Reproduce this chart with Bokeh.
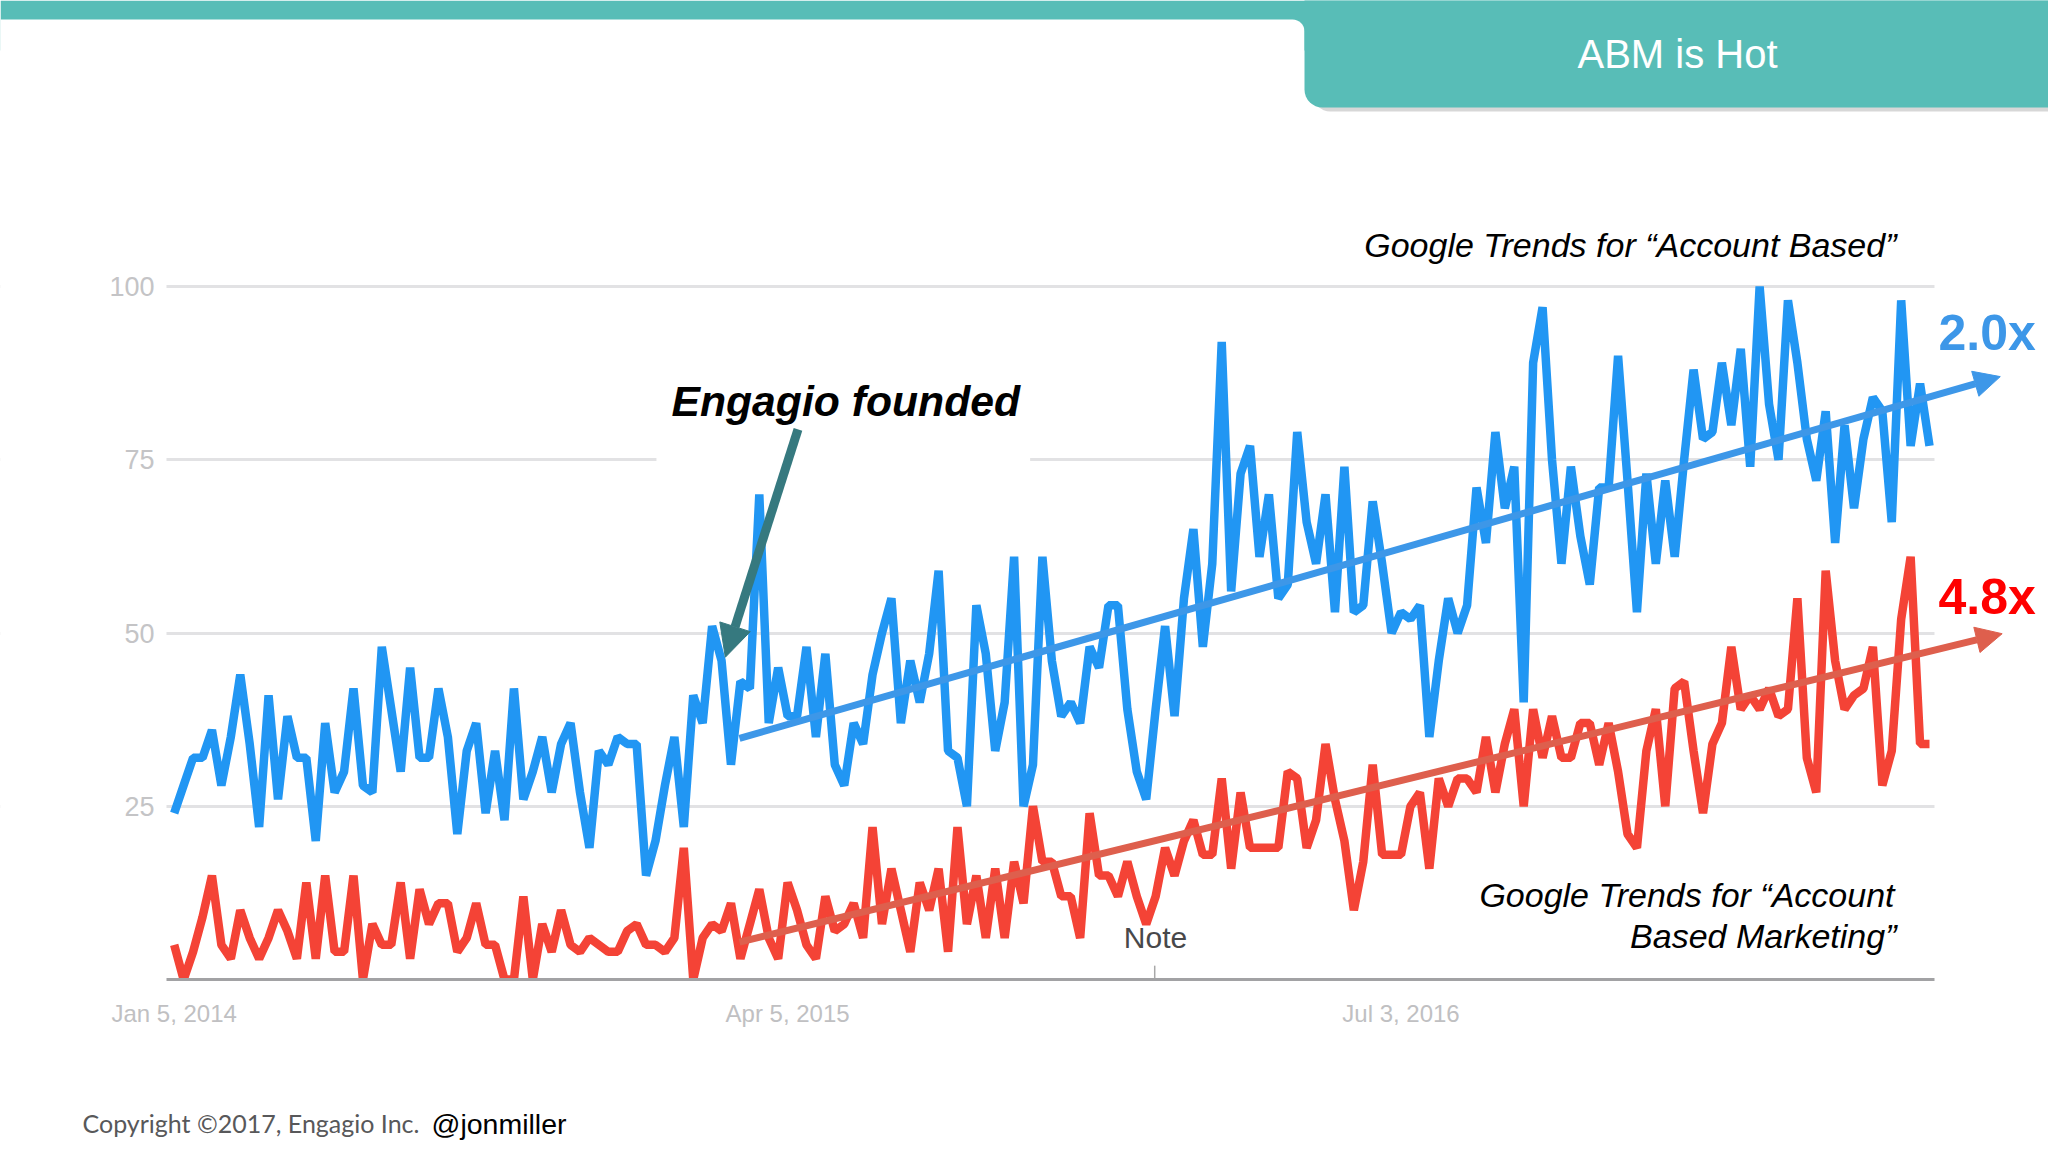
from bokeh.embed import file_html
from bokeh.resources import INLINE
from bokeh.plotting import figure
from bokeh.models import Range1d, Label, Arrow, NormalHead, BoxAnnotation, FixedTicker

# ---------- data (Google Trends index, weekly) ----------
account_based = [
    24,28,32,32,36,28,35,44,34,22,41,26,38,32,32,20,37,27,30,42,28,27,48,39,30,45,32,32,42,35,
    21,33,37,24,33,23,42,26,30,35,27,34,37,27,19,33,31,35,34,34,15,20,28,35,22,41,37,51,
    46,31,43,42,70,37,45,38,38,48,35,47,31,28,37,34,44,50,55,37,46,40,47,59,33,32,25,54,47,33,
    40,61,25,31,61,46,38,40,37,48,45,54,54,39,30,26,39,51,38,55,65,48,60,92,56,73,77,61,70,55,
    57,79,66,60,70,53,74,53,54,
    69,60,50,53,52,54,35,46,55,50,54,71,63,79,68,74,40,89,97,75,60,74,64,57,71,71,90,72,53,73,
    60,72,61,75,88,78,79,89,80,91,74,100,83,75,98,89,78,72,82,63,80,68,78,84,82,66,98,77,86,77,
]
account_based_marketing = [
    5,0,4,9,15,5,3,10,6,3,6,10,7,3,14,3,15,4,4,15,0,8,5,5,14,3,13,8,11,11,4,6,11,5,5,0,0,12,0,8,
    4,10,5,4,6,5,4,4,7,8,5,5,4,6,19,0,6,8,
    7,11,3,8,13,6,3,14,10,5,3,12,7,8,11,6,22,8,16,10,4,14,10,16,4,22,8,15,6,16,
    6,17,11,25,17,17,12,12,6,24,15,15,12,17,12,8,12,19,15,20,23,18,18,29,16,27,19,19,19,19,
    30,29,19,23,34,26,20,10,17,
    31,18,18,18,25,27,16,29,25,29,29,27,35,27,34,39,25,39,32,38,32,32,37,37,31,37,30,21,19,33,
    39,25,42,43,33,24,34,37,48,39,41,39,42,38,39,55,32,27,59,46,39,41,42,48,28,33,52,61,34,34,
]
y_ticks = [0, 25, 50, 75, 100]
y_tick_labels = {0: "", 25: "25", 50: "50", 75: "75", 100: "100"}
x_ticks = [0, 65, 130]
x_tick_labels = {0: "Jan 5, 2014", 65: "Apr 5, 2015", 130: "Jul 3, 2016"}

blue_trend_x, blue_trend_y = [59.9, 193.5], [34.8, 87.0]
red_trend_x, red_trend_y = [59.9, 193.7], [5.4, 49.9]
founded_x, founded_y = [66.1, 58.4], [79.4, 46.5]
note_x, note_y = [103.9, 103.9], [0, 2]
gap_x, gap_y = [51.1, 90.7], [73, 85]
chart_x = [-0.816, 186.53]
chart_y = [0, 100.22]

# ---------- figure: the frame fills the whole canvas ----------
W, H = 2048, 1152
X_RANGE = (-18.406, 198.61)
Y_RANGE = (-24.96, 141.27)
p = figure(width=W, height=H, output_backend="svg", toolbar_location=None,
           x_range=Range1d(*X_RANGE), y_range=Range1d(*Y_RANGE),
           min_border=0)
p.outline_line_color = None
p.background_fill_color = "white"
p.border_fill_color = "white"

p.xgrid.visible = False
p.ygrid.ticker = FixedTicker(ticks=y_ticks[1:])
p.ygrid.grid_line_color = "#E2E2E4"
p.ygrid.grid_line_width = 3

p.yaxis.fixed_location = chart_x[0]
p.yaxis.ticker = FixedTicker(ticks=y_ticks)
p.yaxis.major_label_overrides = y_tick_labels
p.yaxis.axis_line_color = None
p.yaxis.major_tick_line_color = None
p.yaxis.minor_tick_line_color = None
p.yaxis.major_label_standoff = 6
p.yaxis.major_label_text_font = "Liberation Sans"
p.yaxis.major_label_text_font_size = "27px"
p.yaxis.major_label_text_color = "#C4C4C6"

p.xaxis.fixed_location = 0
p.xaxis.bounds = (chart_x[0], chart_x[1])
p.xaxis.ticker = FixedTicker(ticks=x_ticks)
p.xaxis.major_label_overrides = x_tick_labels
p.xaxis.axis_line_color = "#A2A2A4"
p.xaxis.axis_line_width = 3
p.xaxis.major_tick_line_color = None
p.xaxis.minor_tick_line_color = None
p.xaxis.major_label_standoff = 14
p.xaxis.major_label_text_font = "Liberation Sans"
p.xaxis.major_label_text_font_size = "24px"
p.xaxis.major_label_text_color = "#C0C0C2"

# white text box that interrupts the 75 gridline
p.quad(left=gap_x[0], right=gap_x[1], bottom=gap_y[0], top=gap_y[1],
       fill_color="white", line_color=None)

xs_blue = list(range(len(account_based)))
xs_red = list(range(len(account_based_marketing)))
p.line(xs_red, account_based_marketing, line_color="#F44336", line_width=8.5, line_join="bevel")
p.line(xs_blue, account_based, line_color="#2196F3", line_width=8.5, line_join="bevel")
p.line(note_x, note_y, line_color="#A8A8A8", line_width=1.5)

# the chart is clipped at its own plot area: white masks around it
p.quad(left=X_RANGE[0], right=X_RANGE[1], bottom=chart_y[1], top=Y_RANGE[1], fill_color="white", line_color=None)
p.quad(left=X_RANGE[0], right=X_RANGE[1], bottom=Y_RANGE[0], top=chart_y[0], fill_color="white", line_color=None)
p.quad(left=X_RANGE[0], right=chart_x[0], bottom=Y_RANGE[0], top=Y_RANGE[1], fill_color="white", line_color=None)
p.quad(left=chart_x[1], right=X_RANGE[1], bottom=Y_RANGE[0], top=Y_RANGE[1], fill_color="white", line_color=None)

# ---------- arrows ----------
def arrow(xs, ys, color, width, size):
    p.add_layout(Arrow(end=NormalHead(size=size, fill_color=color, line_color=color),
                       x_start=xs[0], y_start=ys[0], x_end=xs[1], y_end=ys[1],
                       line_color=color, line_width=width))

arrow(blue_trend_x, blue_trend_y, "#3D97E8", 7, 26)
arrow(red_trend_x, red_trend_y, "#DE5F4D", 7, 26)
arrow(founded_x, founded_y, "#36797F", 9, 32)

# ---------- header ----------
TEAL = "#58BDB7"
def box(l, r, t, b, color, alpha=1.0, radius=0):
    p.add_layout(BoxAnnotation(left=l, right=r, top=H - t, bottom=H - b,
                               left_units="screen", right_units="screen",
                               top_units="screen", bottom_units="screen",
                               fill_color=color, fill_alpha=alpha, line_color=None,
                               border_radius=radius, level="overlay"))

box(0, W, 0, 50, TEAL)
box(1312, W + 4, 60, 111, "#9A9A9A", 0.4, (0, 0, 0, 18))
box(-4, 1304, 19, 112, "white", 1.0, (0, 12, 0, 0))
box(1304, W + 4, -4, 107, TEAL, 1.0, (0, 0, 0, 18))

# ---------- texts ----------
def text(s, x, y, size, color="black", font="Liberation Sans", style="normal", align="left"):
    p.add_layout(Label(x=x, y=H - y, x_units="screen", y_units="screen", text=s,
                       text_font=font, text_font_size=f"{size}px", text_font_style=style,
                       text_color=color, text_align=align, text_baseline="middle",
                       level="overlay"))

text("ABM is Hot", 1677, 53, 40, "white", align="center")
text("Google Trends for “Account Based”", 1896, 244, 34, style="italic", align="right")
text("Google Trends for “Account", 1894, 894, 34, style="italic", align="right")
text("Based Marketing”", 1896, 935, 34, style="italic", align="right")
text("Engagio founded", 671, 400, 42.7, style="bold italic")
text("2.0x", 1938, 332, 50, "#3D97E8", style="bold")
text("4.8x", 1938, 596, 50, "#FF0000", style="bold")
text("Note", 1155, 937, 30, "#48484A", align="center")
text("Copyright ©2017, Engagio Inc.", 82, 1122, 25, "#58585A", font="Lato")
text("@jonmiller", 431, 1123, 28.5)

open("out.html", "w").write(file_html(p, INLINE))
